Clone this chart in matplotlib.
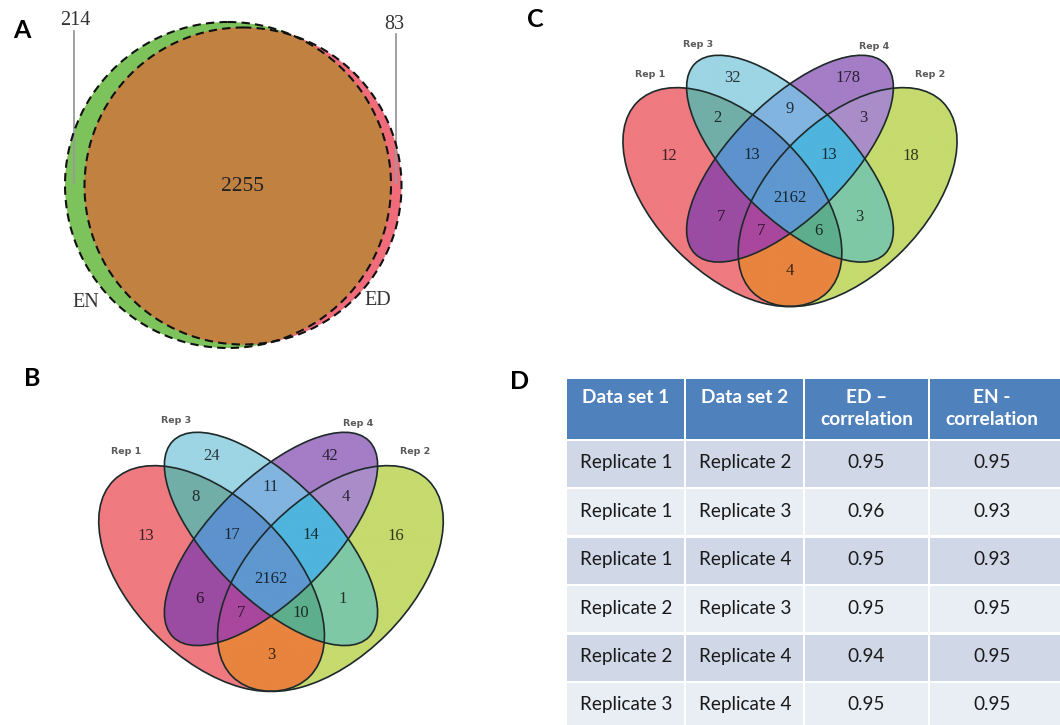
import numpy as np
import matplotlib
matplotlib.use("Agg")
import matplotlib.pyplot as plt
from matplotlib.patches import Circle, Ellipse, Rectangle
from matplotlib.colors import to_rgb

# ---------------- data ----------------
# Panel A: two-set Venn (EN vs ED)
a_labels = ["EN", "ED"]
a_only_en = 214
a_only_ed = 83
a_both = 2255

# Panels B and C: four-set Venn; region keys = membership in (Rep1, Rep2, Rep3, Rep4)
rep_names = ["Rep 1", "Rep 2", "Rep 3", "Rep 4"]
region_keys = ["1000", "0100", "0010", "0001", "1010", "0101", "0011", "1011",
               "0111", "1111", "1001", "0110", "1101", "1110", "1100"]
b_counts = [13, 16, 24, 42, 8, 4, 11, 17, 14, 2162, 6, 1, 7, 10, 3]
c_counts = [12, 18, 32, 178, 2, 3, 9, 13, 13, 2162, 7, 3, 7, 6, 4]

# Panel D: correlation table
table_header = ["Data set 1", "Data set 2", "ED \u2013\ncorrelation", "EN -\ncorrelation"]
data_set_1 = ["Replicate 1", "Replicate 1", "Replicate 1", "Replicate 2", "Replicate 2", "Replicate 3"]
data_set_2 = ["Replicate 2", "Replicate 3", "Replicate 4", "Replicate 3", "Replicate 4", "Replicate 4"]
ed_corr = [0.95, 0.96, 0.95, 0.95, 0.94, 0.95]
en_corr = [0.95, 0.93, 0.93, 0.95, 0.95, 0.95]

# ---------------- styles ----------------
region_colors = {
    "1000": "#EF7A80", "0100": "#C6DA6E", "0010": "#9DD5E4", "0001": "#A47DC6",
    "1010": "#72AEA8", "0101": "#A98DC9", "0011": "#82B4E0", "1011": "#5D93CD",
    "0111": "#4FB5DD", "1111": "#5E98CF", "1001": "#9B4CA2", "0110": "#7FC8A6",
    "1101": "#A8479D", "1110": "#5EAE8E", "1100": "#E8843F",
}
region_pos = {
    "1000": (0.185, 0.578), "0100": (0.815, 0.578), "0010": (0.35, 0.78), "0001": (0.65, 0.78),
    "1010": (0.31, 0.675), "0101": (0.69, 0.675), "0011": (0.5, 0.70), "1011": (0.40, 0.58),
    "0111": (0.60, 0.58), "1111": (0.5, 0.468), "1001": (0.32, 0.418), "0110": (0.68, 0.418),
    "1101": (0.425, 0.382), "1110": (0.575, 0.382), "1100": (0.5, 0.277),
}
# ellipses in unit coords: (cx, cy, a, b, angle deg) for Rep1, Rep2, Rep3, Rep4
ellipses = [(0.35, 0.47, 0.35, 0.20, 135), (0.65, 0.47, 0.35, 0.20, 45),
            (0.50, 0.57, 0.35, 0.15, 135), (0.50, 0.57, 0.35, 0.15, 45)]
rep_label_pos = [(0.135, 0.79), (0.865, 0.79), (0.26, 0.868), (0.72, 0.862)]

W, H = 1060, 725
fig = plt.figure(figsize=(W / 100, H / 100), dpi=100)
ax = fig.add_axes([0, 0, 1, 1])
ax.set_xlim(0, W)
ax.set_ylim(H, 0)
ax.axis("off")

label_font = dict(family=["Lato", "DejaVu Sans"], fontsize=18, fontweight="bold", color="black")

# ---------------- Panel A ----------------
en_c = (228, 185, 163)
ed_c = (243, 186, 158.5)
p_en = Circle(en_c[:2], en_c[2], facecolor="#7DC35B", edgecolor="none", zorder=1)
p_ed = Circle(ed_c[:2], ed_c[2], facecolor="#F06C7A", edgecolor="none", zorder=1)
ax.add_patch(p_en)
ax.add_patch(p_ed)
p_both = Circle(ed_c[:2], ed_c[2], facecolor="#C18141", edgecolor="none", zorder=2)
ax.add_patch(p_both)
p_both.set_clip_path(p_en)
for c in (en_c, ed_c):
    ax.add_patch(Circle(c[:2], c[2], fill=False, edgecolor="#111111", lw=1.5,
                        linestyle=(0, (4, 2.5)), zorder=3))
ax.plot([74, 74], [31, 183], color="#9a9a9a", lw=1.3, zorder=2.5)
ax.plot([396, 396], [34, 183], color="#9a9a9a", lw=1.3, zorder=2.5)
serif = ["Liberation Serif", "DejaVu Serif"]
ax.text(75, 20, str(a_only_en), ha="center", va="center", family=serif, fontsize=14.5, color="#333333")
ax.text(394, 24, str(a_only_ed), ha="center", va="center", family=serif, fontsize=14.5, color="#333333")
ax.text(242, 186, str(a_both), ha="center", va="center", family=serif, fontsize=15.5, color="#222222", zorder=4)
ax.text(86, 302, a_labels[0], ha="center", va="center", family=serif, fontsize=14.5, color="#333333", zorder=4)
ax.text(378, 300, a_labels[1], ha="center", va="center", family=serif, fontsize=14.5, color="#333333", zorder=4)
ax.text(22, 30, "A", ha="center", va="center", **label_font)


# ---------------- Panels B & C ----------------
def draw_venn4(X0, Y0, s, counts):
    def px(x):
        return X0 + (x - 0.5) * s

    def py(y):
        return Y0 + (0.84 - y) * s

    nx, ny = 1100, 900
    xs = np.linspace(0.0, 1.0, nx)
    ys = np.linspace(0.1, 0.92, ny)
    XX, YY = np.meshgrid(xs, ys)
    members = []
    for (cx, cy, a, b, ang) in ellipses:
        t = np.deg2rad(ang)
        dx, dy = XX - cx, YY - cy
        u = dx * np.cos(t) + dy * np.sin(t)
        v = -dx * np.sin(t) + dy * np.cos(t)
        members.append((u / a) ** 2 + (v / b) ** 2 <= 1.0)
    img = np.zeros((ny, nx, 4))
    for key in region_keys:
        mask = np.ones_like(XX, dtype=bool)
        for i, ch in enumerate(key):
            mask &= members[i] if ch == "1" else ~members[i]
        img[mask, :3] = to_rgb(region_colors[key])
        img[mask, 3] = 1.0
    ax.imshow(img, extent=(px(0.0), px(1.0), py(0.1), py(0.92)), origin="lower",
              interpolation="antialiased", zorder=1, aspect="auto")
    for (cx, cy, a, b, ang) in ellipses:
        ax.add_patch(Ellipse((px(cx), py(cy)), 2 * a * s, 2 * b * s, angle=-ang,
                             fill=False, edgecolor="#1e2a2a", lw=1.2, zorder=3))
    for key, n in zip(region_keys, counts):
        x, y = region_pos[key]
        col = np.array(to_rgb(region_colors[key])) * 0.25
        ax.text(px(x), py(y), str(n), ha="center", va="center", family=serif,
                fontsize=12, color=col, zorder=4)
    for name, (x, y) in zip(rep_names, rep_label_pos):
        ax.text(px(x), py(y), name, ha="center", va="center", family=["DejaVu Sans"],
                fontsize=6.8, color="#5a5a5a", fontweight="bold", zorder=4)


draw_venn4(271, 432, 396, b_counts)
draw_venn4(790, 55, 384, c_counts)
ax.text(32, 378, "B", ha="center", va="center", **label_font)
ax.text(535, 19, "C", ha="center", va="center", **label_font)

# ---------------- Panel D ----------------
ax.text(520, 381, "D", ha="center", va="center", **label_font)
col_edges = [567, 686, 805, 930, 1062]
header_top, header_bot = 379, 439
row_top0, row_h = 441, 48.4
header_color = "#4F81BD"
row_colors = ["#D0D8E8", "#E9EDF4"]
tfont = ["Lato", "DejaVu Sans"]
gap = 2
for j, h in enumerate(table_header):
    x0, x1 = col_edges[j], col_edges[j + 1] - gap
    ax.add_patch(Rectangle((x0, header_top), x1 - x0, header_bot - header_top,
                           facecolor=header_color, edgecolor="none", zorder=1))
    ax.text((x0 + x1) / 2 if j < 3 else 992, header_top + 10, h, ha="center", va="top", family=tfont,
            fontsize=13.8, fontweight="bold", color="white", linespacing=1.35, zorder=2)
rows = list(zip(data_set_1, data_set_2, ed_corr, en_corr))
for i, (d1, d2, ed, en) in enumerate(rows):
    y0 = row_top0 + i * row_h
    for j in range(4):
        x0, x1 = col_edges[j], col_edges[j + 1] - gap
        ax.add_patch(Rectangle((x0, y0), x1 - x0, row_h - 2.5,
                               facecolor=row_colors[i % 2], edgecolor="none", zorder=1))
    yc = y0 + (row_h - 2.5) / 2 - 1
    ax.text(col_edges[0] + 13, yc, d1, ha="left", va="center", family=tfont, fontsize=13.6, color="#1a1a1a", zorder=2)
    ax.text(col_edges[1] + 13, yc, d2, ha="left", va="center", family=tfont, fontsize=13.6, color="#1a1a1a", zorder=2)
    ax.text((col_edges[2] + col_edges[3] - gap) / 2, yc, f"{ed:.2f}", ha="center", va="center",
            family=tfont, fontsize=13.6, color="#1a1a1a", zorder=2)
    ax.text(992, yc, f"{en:.2f}", ha="center", va="center",
            family=tfont, fontsize=13.6, color="#1a1a1a", zorder=2)

fig.savefig("out.png", dpi=100)
